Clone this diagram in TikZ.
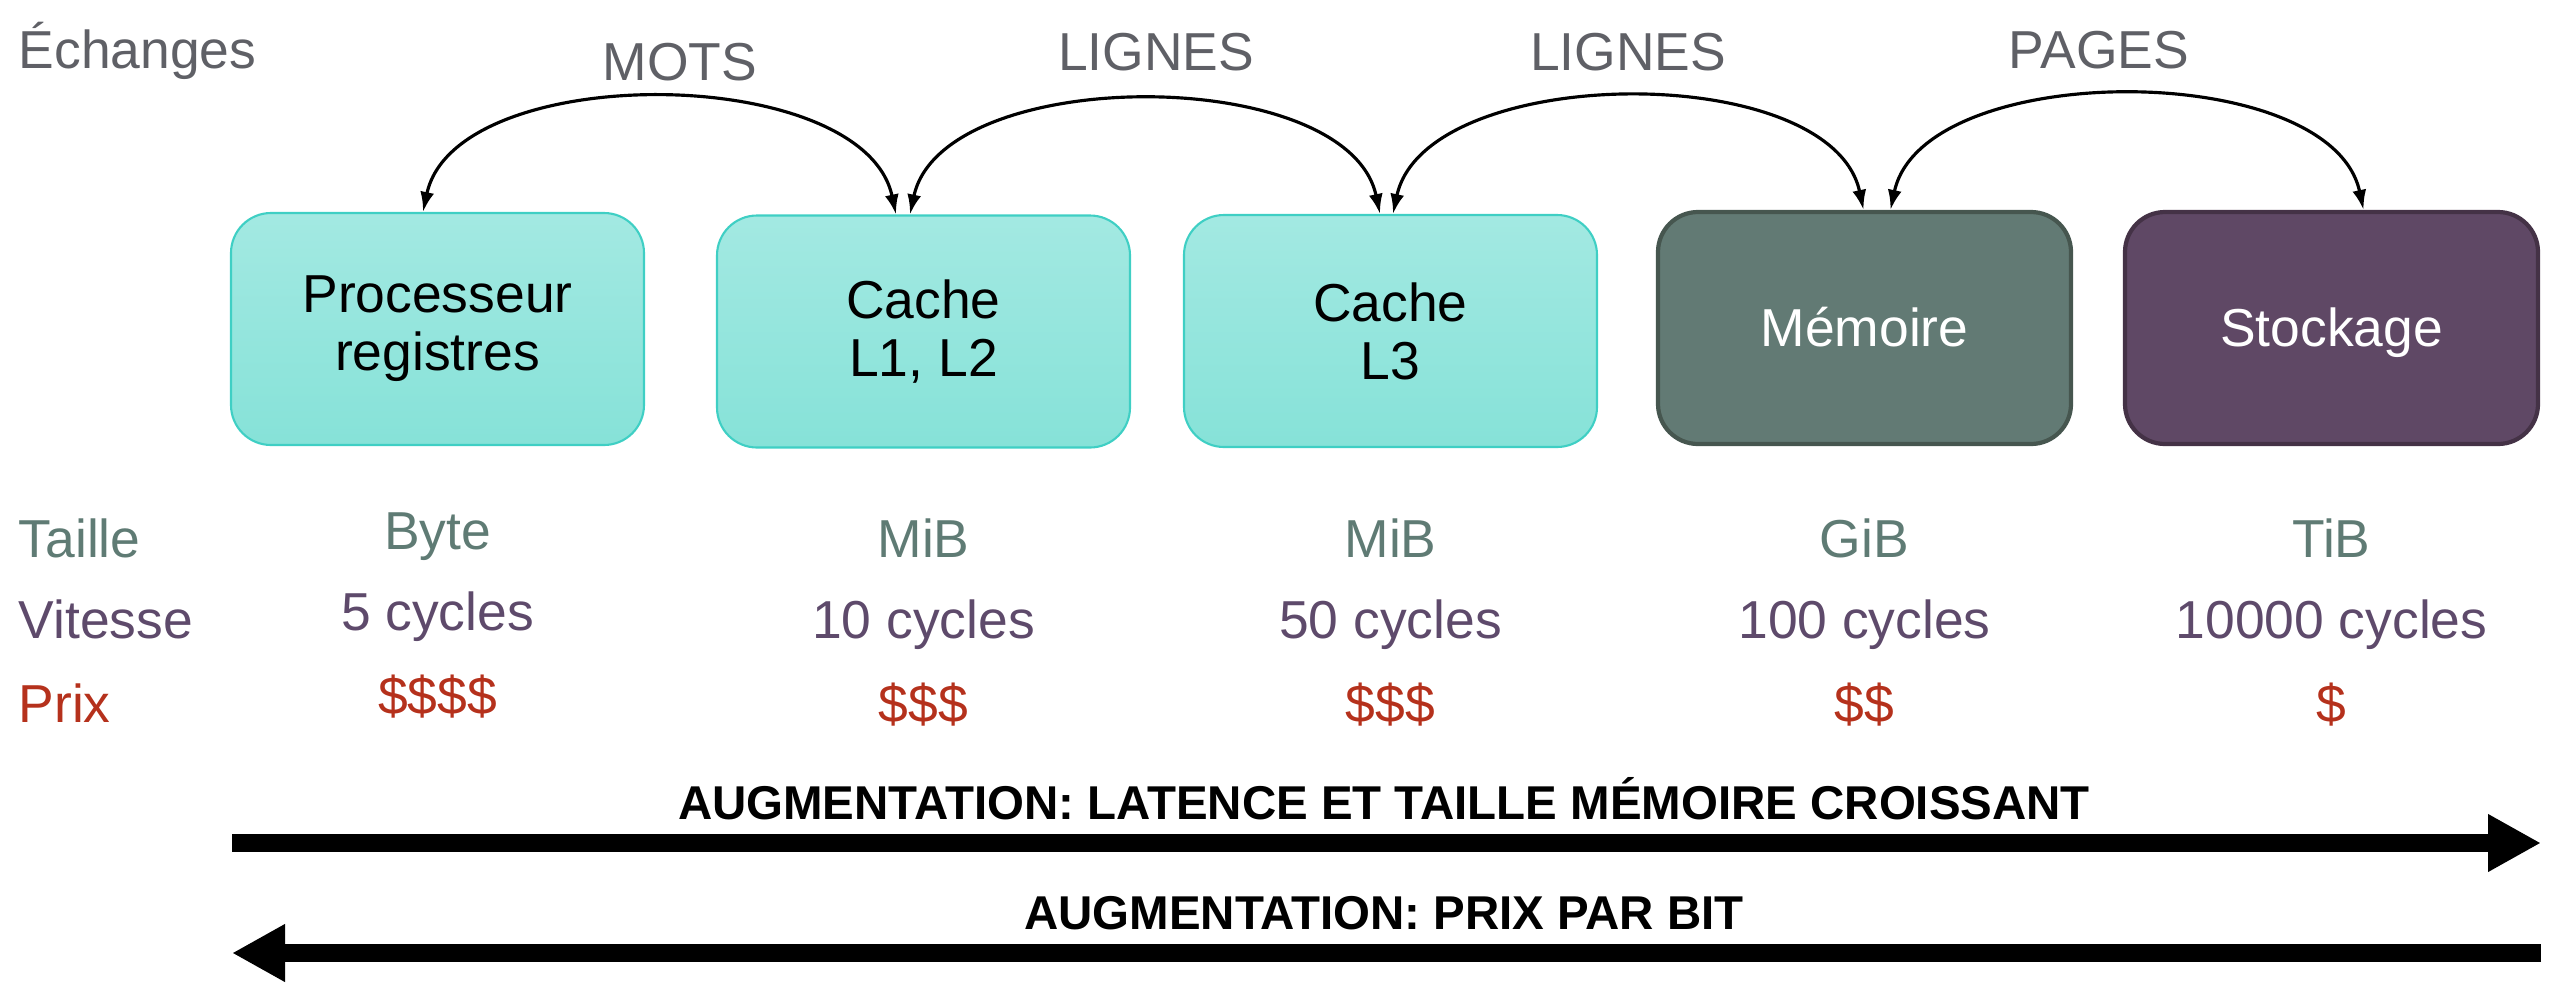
\documentclass[tikz,border=0pt]{standalone}
\usepackage{fontspec}
\setmainfont{Liberation Sans}
\usepackage{tikz}
\usetikzlibrary{arrows.meta,positioning}
\definecolor{echgray}{HTML}{5F6066}
\definecolor{tailcol}{HTML}{5F7B74}
\definecolor{vitcol}{HTML}{5E4A6B}
\definecolor{prixcol}{HTML}{B5311C}
\definecolor{tealtop}{HTML}{A3E9E2}
\definecolor{tealbot}{HTML}{86E2D8}
\definecolor{tealline}{HTML}{3FCFC4}
\definecolor{memfill}{HTML}{627A74}
\definecolor{memline}{HTML}{46564F}
\definecolor{stofill}{HTML}{5F4865}
\definecolor{stoline}{HTML}{443246}
\tikzset{
  niveau/.style={minimum width=4.13cm, minimum height=2.32cm, inner sep=0pt,
    rounded corners=0.4cm, align=center, font=\fontsize{15.2}{16.5}\selectfont},
  cachebox/.style={niveau, draw=tealline, line width=0.6pt, top color=tealtop, bottom color=tealbot},
  membox/.style={niveau, draw=memline, line width=1.2pt, fill=memfill, text=white,
    text height=1.15em, text depth=0.1em},
  stobox/.style={niveau, draw=stoline, line width=1.2pt, fill=stofill, text=white,
    text height=1.15em, text depth=0.1em},
  echange/.style={{Latex[length=2mm,width=1.4mm]}-{Latex[length=2mm,width=1.4mm]},
    line width=0.9pt, out=78, in=102, looseness=0.84},
  lbl/.style={font=\fontsize{15.2}{18}\selectfont, inner sep=0pt},
  gros/.style={line width=0.18cm},
  titre/.style={font=\bfseries\fontsize{13.5}{16}\selectfont, inner sep=0pt}
}
\begin{document}
\begin{tikzpicture}
  \useasboundingbox (0,0) rectangle (25.68,10.06);
  % niveaux de la hierarchie
  \node[cachebox] (proc)   at (4.375,6.77)  {Processeur\\registres};
  \node[cachebox] (lun)    at (9.235,6.745) {Cache\\L1, L2};
  \node[cachebox] (ltrois) at (13.905,6.75) {Cache\\L3};
  \node[membox]   (mem)    at (18.645,6.78) {Mémoire};
  \node[stobox]   (stock)  at (23.315,6.78) {Stockage};

  % echanges entre niveaux
  \node[lbl, text=echgray, anchor=base west] (ech) at (0.18,9.38) {Échanges};
  \node[lbl, text=echgray, anchor=base] (mots)    at (6.80,9.26)  {MOTS};
  \node[lbl, text=echgray, anchor=base] (lignesa) at (11.56,9.36) {LIGNES};
  \node[lbl, text=echgray, anchor=base] (lignesb) at (16.28,9.36) {LIGNES};
  \node[lbl, text=echgray, anchor=base] (pages)   at (20.99,9.38) {PAGES};
  \draw[echange] ([xshift=-1.45mm]proc.north)  to ([xshift=-2.75mm]lun.north);
  \draw[echange] ([xshift=-1.35mm]lun.north)   to ([xshift=-1.05mm]ltrois.north);
  \draw[echange] ([xshift=0.25mm]ltrois.north) to ([xshift=-0.1mm]mem.north);
  \draw[echange] ([xshift=2.6mm]mem.north)     to ([xshift=3.2mm]stock.north);

  % caracteristiques
  \node[lbl, text=tailcol, anchor=base west] (taille)  at (0.18,4.49) {Taille};
  \node[lbl, text=vitcol,  anchor=base west] (vitesse) at (0.18,3.68) {Vitesse};
  \node[lbl, text=prixcol, anchor=base west] (prix)    at (0.18,2.84) {Prix};
  \foreach \n/\t/\v/\p/\dy in {proc/Byte/5 cycles/\$\$\$\$/0.08,
      lun/MiB/10 cycles/\$\$\$/0, ltrois/MiB/50 cycles/\$\$\$/0,
      mem/GiB/100 cycles/\$\$/0, stock/TiB/10000 cycles/\$/0} {
    \node[lbl, text=tailcol, anchor=base, yshift=\dy cm] (t-\n) at (\n.center |- taille.base) {\t};
    \node[lbl, text=vitcol,  anchor=base, yshift=\dy cm] (v-\n) at (\n.center |- vitesse.base) {\v};
    \node[lbl, text=prixcol, anchor=base, yshift=\dy cm] (p-\n) at (\n.center |- prix.base) {\p};
  }

  % tendances
  \coordinate (lat-debut) at (2.32,1.63);
  \coordinate (lat-fin)   at (25.41,1.63);
  \draw[gros, -{Triangle[length=5.3mm,width=5.4mm]}] (lat-debut) -- (lat-fin);
  \node[titre, anchor=base] (lat) at (13.84,1.87) {AUGMENTATION: LATENCE ET TAILLE MÉMOIRE CROISSANT};
  \coordinate (prix-debut) at (25.41,0.53);
  \coordinate (prix-fin)   at (2.32,0.53);
  \draw[gros, -{Triangle[length=5.3mm,width=5.4mm]}] (prix-debut) -- (prix-fin);
  \node[titre, anchor=base] (pbit) at (13.84,0.77) {AUGMENTATION: PRIX PAR BIT};
\end{tikzpicture}
\end{document}
